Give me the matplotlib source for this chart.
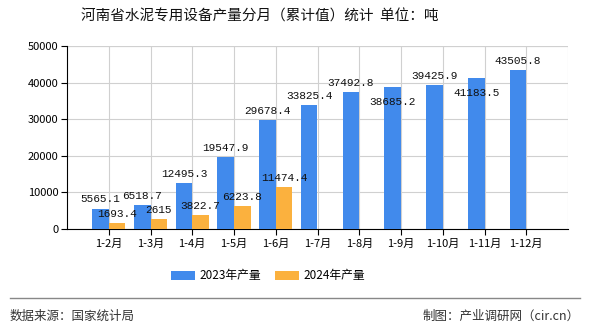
import matplotlib
matplotlib.use("Agg")
import matplotlib.pyplot as plt
import numpy as np

plt.rcParams['font.family'] = ['Noto Sans CJK SC', 'DejaVu Sans']

BLUE = "#418AEC"
ORANGE = "#FBB13E"

months = ["1-2月", "1-3月", "1-4月", "1-5月", "1-6月", "1-7月",
          "1-8月", "1-9月", "1-10月", "1-11月", "1-12月"]
prod_2023 = [5565.1, 6518.7, 12495.3, 19547.9, 29678.4, 33825.4,
             37492.8, 38685.2, 39425.9, 41183.5, 43505.8]
prod_2024 = [1693.4, 2615, 3822.7, 6223.8, 11474.4]


def fmt(v):
    return f"{v:g}"


fig = plt.figure(figsize=(5.9, 3.3), dpi=100)
ax = fig.add_axes([67 / 590, 1 - 229 / 330, (568 - 67) / 590, (229 - 46) / 330])

x = np.arange(len(months))
w = 0.4
ax.bar(x - w / 2, prod_2023, w, color=BLUE, label="2023年产量", zorder=3)
ax.bar(x[:len(prod_2024)] + w / 2, prod_2024, w, color=ORANGE, label="2024年产量", zorder=3)

# labels (two pushed down to dodge neighbours, as in the original)
lab_font = dict(family=["Liberation Mono", "DejaVu Sans Mono"], fontsize=8, color="#111111")
for i, v in enumerate(prod_2023):
    dy = -14 if i in (7, 9) else 3
    ax.annotate(fmt(v), (x[i] - w / 2, v), xytext=(0, dy), textcoords="offset points",
                ha="center", va="bottom", zorder=4, **lab_font)
for i, v in enumerate(prod_2024):
    ax.annotate(fmt(v), (x[i] + w / 2, v), xytext=(0, 3), textcoords="offset points",
                ha="center", va="bottom", zorder=4, **lab_font)

ax.set_xlim(-1, len(months))
ax.set_ylim(0, 50000)
ax.set_yticks(range(0, 50001, 10000))
ax.set_xticks(x)
ax.set_xticklabels(months, fontsize=8)
ax.tick_params(axis="y", labelsize=8, length=4, pad=2)
ax.tick_params(axis="x", length=4, pad=3)
ax.grid(True, color="#d0d0d0", linewidth=0.8, zorder=0)
for s in ("top", "right"):
    ax.spines[s].set_visible(False)
ax.axhline(50000, color="#d0d0d0", lw=0.8, zorder=0)
ax.axvline(len(months), color="#d0d0d0", lw=0.8, zorder=0)

fig.text(260 / 590, 1 - 17 / 330, "河南省水泥专用设备产量分月（累计值）统计  单位：吨",
         ha="center", va="center", fontsize=10.5, color="#111111")

handles, labels = ax.get_legend_handles_labels()
fig.legend(handles, labels, loc="center", bbox_to_anchor=(268 / 590, 1 - 276 / 330), ncol=2,
           frameon=False, fontsize=8.5, handlelength=2.0, handleheight=0.7,
           columnspacing=1.2, handletextpad=0.4)

fig.add_artist(plt.Line2D([10 / 590, 580 / 590], [1 - 298 / 330] * 2,
                          color="#888888", lw=1.0))
fig.text(10 / 590, 1 - 316 / 330, "数据来源：国家统计局", ha="left", va="center",
         fontsize=9, color="#333333")
fig.text(580 / 590, 1 - 316 / 330, "制图：产业调研网（cir.cn）", ha="right", va="center",
         fontsize=9, color="#333333")

fig.savefig("out.png", dpi=100)
